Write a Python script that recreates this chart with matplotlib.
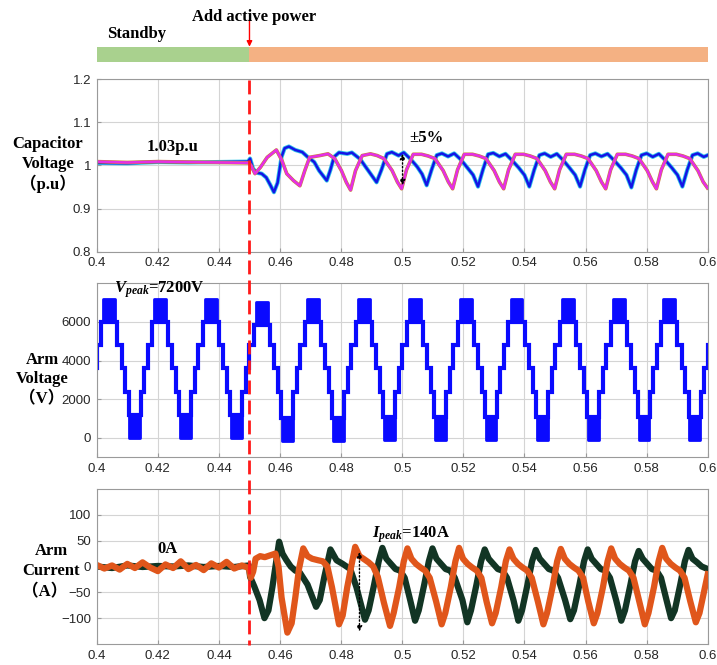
import numpy as np
import matplotlib.pyplot as plt
from matplotlib import transforms
from matplotlib.lines import Line2D
from matplotlib.patches import Rectangle

plt.rcParams['font.family'] = ['Liberation Sans', 'DejaVu Sans']
plt.rcParams['mathtext.fontset'] = 'custom'
plt.rcParams['mathtext.rm'] = 'Liberation Serif'
plt.rcParams['mathtext.it'] = 'Liberation Serif:italic'
plt.rcParams['mathtext.bf'] = 'Liberation Serif:bold'
plt.rcParams['mathtext.bfit'] = 'Liberation Serif:italic:bold'

SERIF = ['Liberation Serif', 'Noto Sans CJK SC']

# ---- data ----
t_step = 0.45  # active power added

x_ticks = [0.4, 0.42, 0.44, 0.46, 0.48, 0.5, 0.52, 0.54, 0.56, 0.58, 0.6]
x_labels = ['0.4', '0.42', '0.44', '0.46', '0.48', '0.5', '0.52', '0.54', '0.56', '0.58', '0.6']

# capacitor voltage (p.u), keypoints (t, v)
cap_blue = [
    (0.400, 1.006), (0.410, 1.005), (0.420, 1.008), (0.430, 1.007), (0.440, 1.008), (0.4495, 1.009),
    (0.4502, 1.016), (0.4512, 0.992), (0.4525, 0.983), (0.454, 0.981), (0.4555, 0.972), (0.4568, 0.955),
    (0.458, 0.938), (0.4592, 0.96), (0.4605, 1.02), (0.4615, 1.04), (0.4629, 1.044), (0.465, 1.036),
    (0.4673, 1.031), (0.469, 1.02), (0.4712, 1.008), (0.4728, 0.988), (0.4753, 0.965), (0.4765, 0.99),
    (0.4777, 1.02), (0.4793, 1.03), (0.482, 1.027), (0.4835, 1.03), (0.4862, 1.015), (0.4889, 0.988),
    (0.4916, 0.961),
    (0.4932, 0.99), (0.495, 1.027), (0.4966, 1.031), (0.4988, 1.023), (0.5005, 1.03), (0.5027, 1.015),
    (0.5049, 0.997), (0.5065, 0.98), (0.5080, 0.954),
    (0.5096, 0.99), (0.5113, 1.024), (0.513, 1.028), (0.515, 1.021), (0.517, 1.028), (0.519, 1.015),
    (0.5213, 0.995), (0.5232, 0.978), (0.5248, 0.951),
    (0.5264, 0.99), (0.5281, 1.026), (0.5298, 1.029), (0.5318, 1.021), (0.5338, 1.027), (0.5358, 1.013),
    (0.5381, 0.995), (0.54, 0.978), (0.5416, 0.951),
    (0.5432, 0.99), (0.5449, 1.024), (0.5466, 1.028), (0.5486, 1.02), (0.5506, 1.027), (0.5526, 1.013),
    (0.5547, 0.995), (0.5566, 0.978), (0.5582, 0.951),
    (0.5598, 0.99), (0.5615, 1.024), (0.5632, 1.028), (0.5652, 1.021), (0.5672, 1.027), (0.5692, 1.013),
    (0.5715, 0.995), (0.5734, 0.978), (0.5750, 0.949),
    (0.5766, 0.99), (0.5783, 1.024), (0.58, 1.028), (0.582, 1.02), (0.584, 1.027), (0.586, 1.013),
    (0.5882, 0.995), (0.5901, 0.978), (0.5917, 0.951),
    (0.5933, 0.99), (0.595, 1.024), (0.5967, 1.028), (0.5987, 1.02), (0.6, 1.024),
]
cap_magenta = [
    (0.400, 1.009), (0.410, 1.007), (0.420, 1.009), (0.430, 1.008), (0.440, 1.007), (0.4498, 1.006),
    (0.4505, 1.0), (0.4518, 0.981), (0.4536, 0.996), (0.4558, 1.019), (0.4588, 1.036), (0.4606, 1.012),
    (0.4622, 0.981), (0.4644, 0.965), (0.4665, 0.953), (0.4681, 0.988), (0.4697, 1.019), (0.473, 1.023),
    (0.4757, 1.027), (0.4779, 1.016), (0.4801, 0.988), (0.4817, 0.961), (0.4831, 0.943),
    (0.4847, 0.988), (0.4869, 1.023), (0.4896, 1.027), (0.4918, 1.023), (0.494, 1.016), (0.4967, 0.988),
    (0.4984, 0.962), (0.4998, 0.946),
    (0.5014, 0.99), (0.5036, 1.026), (0.5063, 1.026), (0.5085, 1.022), (0.5107, 1.016), (0.5134, 0.988),
    (0.5151, 0.962), (0.5165, 0.946),
    (0.5181, 0.99), (0.5203, 1.026), (0.523, 1.026), (0.5252, 1.022), (0.5274, 1.016), (0.5301, 0.988),
    (0.5318, 0.962), (0.5332, 0.946),
    (0.5348, 0.99), (0.537, 1.026), (0.5397, 1.026), (0.5419, 1.022), (0.5441, 1.016), (0.5468, 0.988),
    (0.5485, 0.962), (0.5499, 0.946),
    (0.5515, 0.99), (0.5537, 1.026), (0.5564, 1.026), (0.5586, 1.022), (0.5608, 1.016), (0.5635, 0.988),
    (0.5652, 0.962), (0.5666, 0.946),
    (0.5682, 0.99), (0.5704, 1.026), (0.5731, 1.026), (0.5753, 1.022), (0.5775, 1.016), (0.5802, 0.988),
    (0.5819, 0.962), (0.5832, 0.946),
    (0.5848, 0.99), (0.587, 1.026), (0.5897, 1.026), (0.5919, 1.022), (0.5941, 1.016), (0.5968, 0.988),
    (0.5985, 0.962), (0.5999, 0.948),
]

# arm voltage: staircase levels and switching instants (s, from the top-blob centre)
arm_levels = [0, 1200, 2400, 3600, 4800, 6000, 7200]
top_half = 0.00196
down_switch = [0.00262, 0.00404, 0.00524, 0.00633]
bottom_start = 0.00655
pre_peaks = [0.3875, 0.4041, 0.4207, 0.4373, 0.4540]
pre_top_off = [0, 0, 0, 0, 0]
pre_bot_off = [0, 0, 0, 0, 0]
post_peaks = [0.4373, 0.4540, 0.4707, 0.4874, 0.5041, 0.5208, 0.5374, 0.5541, 0.5708, 0.5874, 0.6041]
post_top_off = [0, -150, 0, 0, 0, 0, 0, 0, 0, 0, 0]
post_bot_off = [0, -150, -150, -100, -100, -100, -100, -100, -100, -100, -100]

# arm current (A), keypoints (t, i)
cur_green = [
    (0.400, 0), (0.405, -3), (0.410, 2), (0.415, -1), (0.420, 1), (0.425, 0), (0.430, 2), (0.435, -1),
    (0.440, 1), (0.445, -1), (0.4498, 2),
    (0.4502, -20), (0.4516, -39), (0.4533, -65), (0.4549, -100), (0.4562, -85), (0.4575, -40), (0.4585, 0),
    (0.4597, 48), (0.4608, 25), (0.462, 13), (0.4635, 0), (0.465, -8), (0.4665, -12), (0.469, -35),
    (0.4718, -78), (0.473, -65), (0.4745, -20), (0.4765, 33), (0.4785, 12), (0.4805, 5), (0.483, -5),
    (0.485, -40),
    (0.4878, -103), (0.489, -85), (0.4908, -35), (0.4923, 10), (0.4935, 36), (0.4948, 15), (0.4963, 5),
    (0.4978, -5), (0.4993, -8), (0.5008, -22), (0.5026, -65),
    (0.5042, -105), (0.5054, -85), (0.5072, -35), (0.5087, 10), (0.5099, 35), (0.5112, 15), (0.5127, 5),
    (0.5142, -5), (0.5157, -8), (0.5172, -22), (0.5197, -65),
    (0.5213, -108), (0.5225, -85), (0.5243, -35), (0.5258, 10), (0.527, 33), (0.5283, 15), (0.5298, 5),
    (0.5313, -5), (0.5328, -8), (0.5343, -22), (0.5364, -65),
    (0.538, -105), (0.5392, -85), (0.541, -35), (0.5425, 10), (0.5437, 32), (0.545, 15), (0.5465, 5),
    (0.548, -5), (0.5495, -8), (0.551, -22), (0.5533, -65),
    (0.555, -102), (0.5562, -85), (0.558, -35), (0.5595, 10), (0.5607, 33), (0.562, 15), (0.5635, 5),
    (0.565, -5), (0.5665, -8), (0.568, -22), (0.5700, -65),
    (0.5717, -105), (0.5729, -85), (0.5747, -35), (0.5762, 10), (0.5774, 30), (0.5787, 15), (0.5802, 5),
    (0.5817, -5), (0.5832, -8), (0.5847, -22), (0.5865, -65),
    (0.588, -100), (0.5892, -85), (0.591, -35), (0.5925, 10), (0.5937, 32), (0.595, 15), (0.5965, 8),
    (0.598, 0), (0.6, -5),
]
cur_orange = [
    (0.400, 3), (0.4025, -4), (0.405, 2), (0.4075, -6), (0.410, 5), (0.4125, -3), (0.415, 8), (0.4175, -2),
    (0.420, -9), (0.4225, 4), (0.425, -3), (0.4275, 10), (0.430, -5), (0.4325, 3), (0.435, -7), (0.4375, 6),
    (0.440, -2), (0.4425, 9), (0.445, -4), (0.4475, 2), (0.4498, -3),
    (0.4504, -22), (0.4512, -10), (0.452, 15), (0.4535, 20), (0.455, 18), (0.457, 22), (0.4585, 25),
    (0.4595, 0), (0.4605, -60), (0.4624, -128), (0.4638, -110), (0.465, -60), (0.4662, -5), (0.4676, 35),
    (0.469, 20), (0.4705, 15), (0.4725, 12), (0.474, 10), (0.4755, 0), (0.477, -40), (0.4793, -112),
    (0.4805, -95), (0.482, -40), (0.4833, 0), (0.4846, 38), (0.486, 20), (0.4873, 15), (0.489, 8),
    (0.4905, 0), (0.492, -20), (0.494, -70),
    (0.496, -115), (0.4972, -90), (0.499, -40), (0.5005, 10), (0.5017, 35), (0.503, 15), (0.5045, 5),
    (0.506, -2), (0.5075, -8), (0.509, -22), (0.5111, -68),
    (0.5129, -112), (0.5141, -90), (0.5159, -40), (0.5174, 10), (0.5186, 36), (0.5199, 15), (0.5214, 5),
    (0.5229, -2), (0.5244, -8), (0.5259, -22), (0.5276, -68),
    (0.5294, -110), (0.5306, -90), (0.5324, -40), (0.5339, 10), (0.5351, 33), (0.5364, 15), (0.5379, 5),
    (0.5394, -2), (0.5409, -8), (0.5424, -22), (0.5444, -68),
    (0.5462, -112), (0.5474, -90), (0.5492, -40), (0.5507, 10), (0.5519, 34), (0.5532, 15), (0.5547, 5),
    (0.5562, -2), (0.5577, -8), (0.5592, -22), (0.5609, -68),
    (0.5627, -110), (0.5639, -90), (0.5657, -40), (0.5672, 10), (0.5684, 35), (0.5697, 15), (0.5712, 5),
    (0.5727, -2), (0.5742, -8), (0.5757, -22), (0.5776, -68),
    (0.5794, -112), (0.5806, -90), (0.5824, -40), (0.5839, 10), (0.5851, 36), (0.5864, 15), (0.5879, 5),
    (0.5894, -2), (0.5909, -8), (0.5924, -22), (0.5943, -68),
    (0.5961, -108), (0.5973, -90), (0.5991, -40), (0.6, -15),
]

# left-hand panel labels: (lines, x of centre of each line, y of each line), pixels
side_labels = [
    (['Capacitor', 'Voltage', '（p.u）'], [48, 48, 48], [144, 164, 184]),
    (['Arm', 'Voltage', '（V）'], [42, 42, 42], [360, 379, 399]),
    (['Arm', 'Current', '（A）'], [51, 51, 45], [551, 571, 592]),
]


def staircase(peaks, top_off, bot_off):
    ts, vs, blobs = [], [], []
    for i in range(len(peaks) - 1):
        p, q = peaks[i], peaks[i + 1]
        dt, db = top_off[i], bot_off[i]
        blobs.append((p - top_half, p + top_half, arm_levels[5] + dt, arm_levels[6] + dt))
        ts.append(p - top_half); vs.append(arm_levels[5] + dt)
        for k, s in enumerate(down_switch):
            ts.append(p + s)
            vs.append(arm_levels[4 - k] + (db if k == 3 else 0))
        blobs.append((p + bottom_start, q - bottom_start, arm_levels[0] + db, arm_levels[1] + db))
        for k, s in enumerate(reversed(down_switch)):
            ts.append(q - s)
            vs.append(arm_levels[2 + k] + (top_off[i + 1] if k == 3 else 0))
    return ts, vs, blobs


def style_axes(ax, ylim, yticks, ylabels):
    ax.set_xlim(0.4, 0.6)
    ax.set_ylim(*ylim)
    ax.set_xticks(x_ticks)
    ax.set_xticklabels(x_labels)
    ax.set_yticks(yticks)
    ax.set_yticklabels(ylabels)
    ax.grid(True, color='#d4d4d4', lw=0.8)
    ax.set_axisbelow(True)
    for s in ax.spines.values():
        s.set_color('#9a9a9a')
        s.set_linewidth(0.8)
    ax.tick_params(direction='in', length=3, color='#9a9a9a', labelcolor='#262626',
                   labelsize=9.5, pad=4)


fig = plt.figure(figsize=(7.17, 6.65), dpi=100)
L, W = 0.1349, 0.8522
ax1 = fig.add_axes([L, 0.6215, W, 0.2593])
ax2 = fig.add_axes([L, 0.3123, W, 0.2617])
ax3 = fig.add_axes([L, 0.0316, W, 0.2331])
axb = fig.add_axes([L, 0.9072, W, 0.0226])

# top state bar
axb.barh(0, t_step - 0.4, left=0.4, height=1, color='#a9d18e')
axb.barh(0, 0.6 - t_step, left=t_step, height=1, color='#f4b183')
axb.set_xlim(0.4, 0.6)
axb.set_ylim(-0.5, 0.5)
axb.axis('off')
fig.text(0.149, 0.949, 'Standby', family=SERIF, weight='bold', size=12, ha='left', va='center')
fig.text(0.3545, 0.974, 'Add active power', family=SERIF, weight='bold', size=12, ha='center', va='center')
axb.annotate('', xy=(t_step, 0.5), xytext=(t_step, 2.3), xycoords='data', annotation_clip=False,
             arrowprops=dict(arrowstyle='-|>', color='#ff0000', lw=1, mutation_scale=8,
                             shrinkA=0, shrinkB=0))

# panel 1: capacitor voltage
bt, bv = np.array(cap_blue).T
mt, mv = np.array(cap_magenta).T
ax1.plot(bt, bv, color='#33c8e8', lw=3.0)
ax1.plot(bt, bv, color='#1414e6', lw=1.8)
ax1.plot(mt, mv, color='#c8803c', lw=2.6)
ax1.plot(mt, mv, color='#e62ee6', lw=1.8)
style_axes(ax1, (0.8, 1.2), [0.8, 0.9, 1.0, 1.1, 1.2], ['0.8', '0.9', '1', '1.1', '1.2'])
ax1.text(0.4248, 1.044, '1.03p.u', family=SERIF, weight='bold', size=12, ha='center', va='center')
ax1.text(0.5022, 1.063, '±5%', family=SERIF, weight='bold', size=12, ha='left', va='center')
ax1.annotate('', xy=(0.5001, 0.954), xytext=(0.5001, 1.027),
             arrowprops=dict(arrowstyle='<|-|>', color='k', lw=1, ls=':', mutation_scale=8,
                             shrinkA=0, shrinkB=0))

# panel 2: arm voltage
arm_ylim = (-1000, 8000)
for peaks, toff, boff, x0, x1 in [(pre_peaks, pre_top_off, pre_bot_off, 0.4, t_step),
                                  (post_peaks, post_top_off, post_bot_off, t_step, 0.6)]:
    ts, vs, blobs = staircase(peaks, toff, boff)
    clip = Rectangle((x0, arm_ylim[0]), x1 - x0, arm_ylim[1] - arm_ylim[0], transform=ax2.transData)
    ln, = ax2.plot(ts, vs, drawstyle='steps-post', color='#0a0aff', lw=3.0, solid_joinstyle='miter')
    ln.set_clip_path(clip)
    for a, b, lo, hi in blobs:
        f = ax2.fill_between([a, b], [lo, lo], [hi, hi], color='#0a0aff', lw=2)
        f.set_clip_path(clip)
style_axes(ax2, arm_ylim, [0, 2000, 4000, 6000], ['0', '2000', '4000', '6000'])
ax2.text(0.4204, 7660, r'$\mathbfit{V}_{\mathbfit{peak}}$=7200V', family=SERIF, weight='bold',
         size=12, ha='center', va='center')

# panel 3: arm current
gt, gv = np.array(cur_green).T
ot, ov = np.array(cur_orange).T
ax3.plot(gt, gv, color='#123524', lw=4.5)
ax3.plot(ot, ov, color='#e0561b', lw=4.5)
style_axes(ax3, (-150, 150), [-100, -50, 0, 50, 100], ['\u2212100', '\u221250', '0', '50', '100'])
ax3.text(0.4232, 34, '0A', family=SERIF, weight='bold', size=12, ha='center', va='center')
ax3.text(0.4901, 61, r'$\mathbfit{I}_{\mathbfit{peak}}$=140A', family=SERIF, weight='bold',
         size=12, ha='left', va='center')
ax3.annotate('', xy=(0.486, -126), xytext=(0.486, 28),
             arrowprops=dict(arrowstyle='<|-|>', color='k', lw=1, ls=':', mutation_scale=8,
                             shrinkA=0, shrinkB=0))

# left labels, one text per line
for lines, xs, ys in side_labels:
    for txt, xc, yc in zip(lines, xs, ys):
        fig.text(xc / 717, 1 - yc / 665, txt, family=SERIF, weight='bold', size=12,
                 ha='center', va='center')

# red dashed line across all panels
tr = transforms.blended_transform_factory(ax1.transData, fig.transFigure)
fig.lines.append(Line2D([t_step, t_step], [1 - 80 / 665, 1 - 645 / 665], transform=tr,
                        color='#ff1a1a', lw=2, ls=(0, (5, 2.2))))

fig.savefig('out.png', dpi=100)
